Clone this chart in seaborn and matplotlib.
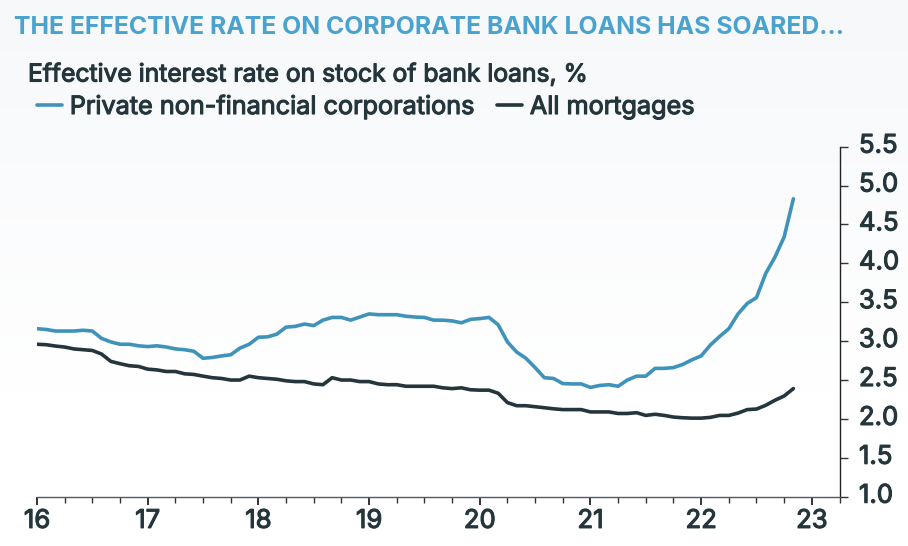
import numpy as np, pandas as pd
import matplotlib
matplotlib.use("Agg")
import matplotlib.pyplot as plt
import matplotlib.patheffects as pe
from matplotlib.transforms import ScaledTranslation
from matplotlib.ticker import MultipleLocator
import seaborn as sns

corporate = [3.16,3.15,3.13,3.13,3.13,3.14,3.13,3.035,2.99,2.96,2.96,2.94,
             2.93,2.94,2.925,2.90,2.89,2.87,2.78,2.79,2.81,2.825,2.91,2.96,
             3.05,3.055,3.09,3.18,3.19,3.22,3.20,3.27,3.305,3.305,3.27,3.31,
             3.35,3.34,3.34,3.34,3.32,3.31,3.305,3.27,3.27,3.26,3.236,3.28,
             3.29,3.305,3.21,2.99,2.86,2.78,2.66,2.53,2.52,2.455,2.45,2.45,
             2.405,2.43,2.44,2.42,2.50,2.55,2.55,2.65,2.65,2.66,2.70,2.76,
             2.81,2.95,3.06,3.16,3.35,3.485,3.56,3.87,4.08,4.34,4.83]
mortgages = [2.96,2.954,2.937,2.924,2.90,2.89,2.88,2.834,2.74,2.71,2.684,2.675,
             2.64,2.63,2.61,2.61,2.58,2.572,2.55,2.53,2.52,2.50,2.50,2.55,
             2.53,2.52,2.51,2.49,2.48,2.48,2.45,2.44,2.53,2.50,2.50,2.48,
             2.48,2.45,2.44,2.44,2.42,2.42,2.42,2.42,2.40,2.39,2.40,2.375,
             2.37,2.37,2.33,2.21,2.17,2.17,2.157,2.144,2.13,2.12,2.12,2.12,
             2.09,2.09,2.09,2.07,2.07,2.08,2.045,2.06,2.045,2.024,2.015,2.01,
             2.01,2.02,2.045,2.045,2.075,2.12,2.127,2.175,2.24,2.295,2.39]
year_labels = ["16","17","18","19","20","21","22","23"]
y_labels = ["1.0","1.5","2.0","2.5","3.0","3.5","4.0","4.5","5.0","5.5"]
series_names = ["Private non-financial corporations","All mortgages"]

BLUE="#3f93bb"; DARK="#24363c"; TITLE="#4aa3cf"
W,H=908,546
sns.set_theme(style="white")
plt.rcParams['font.family']=['Inter','DejaVu Sans']

def heavy(color,w=0.8):
    return [pe.withStroke(linewidth=w,foreground=color)]

fig=plt.figure(figsize=(W/100,H/100),dpi=100)
bg=fig.add_axes([0,0,1,1],zorder=0); bg.axis("off")
grad=np.clip(np.linspace(0,1,H)/0.72,0,1)[:,None,None]
top=np.array([0.968,0.973,0.982])
bg.imshow(top+(1-top)*grad,aspect="auto",extent=[0,1,0,1])

ax=fig.add_axes([37/W,1-496.7/H,(839.5-37)/W,350/H],zorder=1)
ax.patch.set_alpha(0)
t=16+np.arange(len(corporate))/12
df=pd.DataFrame({"t":np.r_[t,t],"v":corporate+mortgages,
                 "s":[series_names[0]]*len(t)+[series_names[1]]*len(t)})
sns.lineplot(data=df,x="t",y="v",hue="s",hue_order=series_names,palette=[BLUE,DARK],
             linewidth=2.6,ax=ax,legend=True,estimator=None,errorbar=None)
for l in ax.lines: l.set_solid_capstyle("round")
ax.set_xlim(16,23.25); ax.set_ylim(1,5.5)
ax.set_xlabel(""); ax.set_ylabel("")
for s in ["top","left"]: ax.spines[s].set_visible(False)
ax.spines["right"].set_color("#222222"); ax.spines["right"].set_linewidth(1)
ax.spines["bottom"].set_color("#555a5c"); ax.spines["bottom"].set_linewidth(1)
ax.yaxis.tick_right()
ax.set_yticks(np.arange(1,5.6,.5)); ax.set_yticklabels(y_labels)
ax.set_xticks(np.arange(16,24)); ax.set_xticklabels(year_labels)
ax.xaxis.set_minor_locator(MultipleLocator(.25))
ax.tick_params(axis="y",which="major",right=True,length=6,width=1,color="#333",pad=8,labelsize=18.5,labelcolor=DARK)
ax.tick_params(axis="x",which="major",bottom=True,length=5.5,width=1.2,color="#111",pad=4,labelsize=18.5,labelcolor=DARK)
ax.tick_params(axis="x",which="minor",bottom=True,length=4.5,width=1,color="#333")
up=ScaledTranslation(0,3/100,fig.dpi_scale_trans)
for lab in ax.get_yticklabels():
    lab.set_transform(lab.get_transform()+up)
for lab in ax.get_xticklabels()+ax.get_yticklabels():
    lab.set_path_effects(heavy(DARK))

h,l=ax.get_legend_handles_labels()
leg=ax.legend(h,l,loc="upper left",frameon=False,ncol=2,
              fontsize=18.15,labelcolor=DARK,handlelength=1.0,handletextpad=0.3,columnspacing=0.9,
              borderaxespad=0,borderpad=0)
for tx in leg.get_texts(): tx.set_path_effects(heavy(DARK))
leg.set_bbox_to_anchor((37/W,1-95.5/H),transform=fig.transFigure)

fig.text(14/W,1-27/H,"THE EFFECTIVE RATE ON CORPORATE BANK LOANS HAS SOARED...",color=TITLE,
         fontsize=17.85,fontweight="bold",va="center",ha="left",zorder=5)
fig.text(28/W,1-75/H,"Effective interest rate on stock of bank loans, %",color=DARK,
         fontsize=17.75,va="center",ha="left",zorder=5,path_effects=heavy(DARK))
fig.savefig("out.png",dpi=100)
